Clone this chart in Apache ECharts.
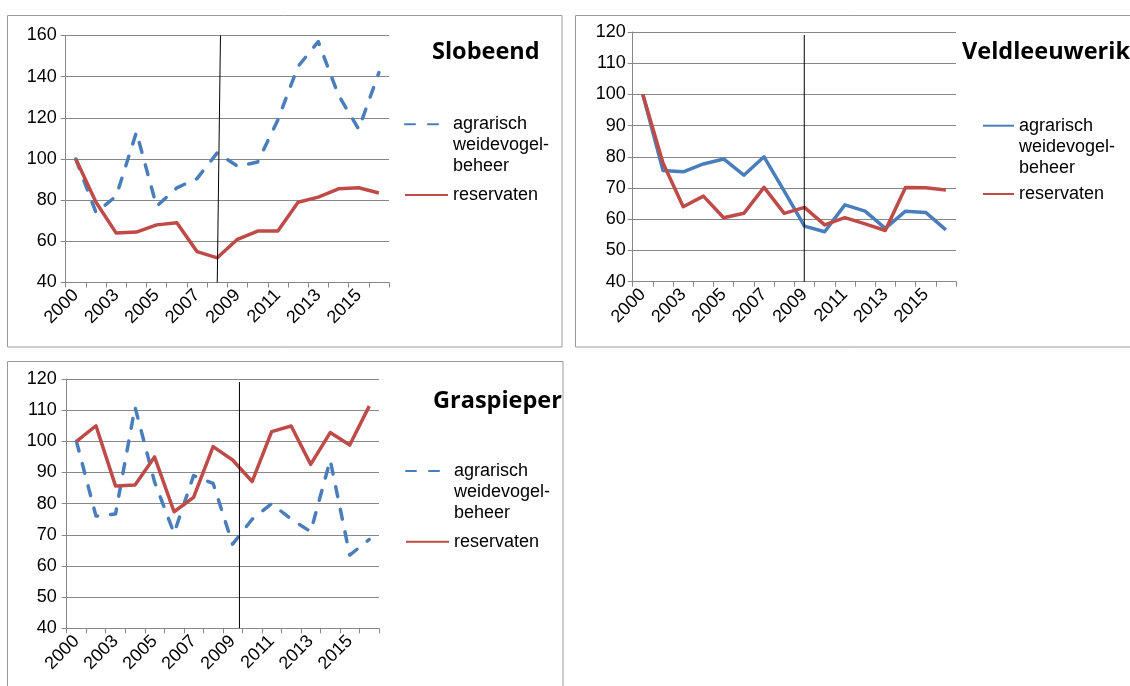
<!DOCTYPE html>
<html>
<head>
<meta charset="utf-8">
<script src="https://cdn.jsdelivr.net/npm/echarts@6/dist/echarts.min.js"></script>
<style>
html,body{margin:0;padding:0;background:#ffffff;}
#chart{width:1130px;height:686px;}
</style>
</head>
<body>
<div id="chart"></div>
<script>
// ---- data ----
const years = ['2000','2002','2003','2004','2005','2006','2007','2008','2009','2010','2011','2012','2013','2014','2015','2016'];
const panelTitles = ['Slobeend', 'Veldleeuwerik', 'Graspieper'];
const seriesLabels = ['agrarisch\nweidevogel-\nbeheer', 'reservaten'];

const slobeendAgrarisch = [100, 74, 82, 113, 77, 86, 90.5, 103, 96.5, 98.5, 119, 145, 157, 131, 114.5, 142];
const slobeendReservaten = [100, 79, 64, 64.5, 68, 69, 55, 52, 61, 65, 65, 79, 81.5, 85.5, 86, 83.5];

const veldleeuwerikAgrarisch = [100, 75.6, 75.2, 77.7, 79.3, 74.1, 80, 69, 57.8, 56, 64.6, 62.6, 57.1, 62.6, 62.2, 56.6];
const veldleeuwerikReservaten = [100, 78, 64, 67.4, 60.5, 61.9, 70.2, 61.9, 63.8, 58.2, 60.5, 58.5, 56.4, 70.2, 70.1, 69.4];

const graspieperAgrarisch = [100, 76, 76.7, 111, 87, 70.5, 89, 86.5, 67, 75, 80, 75, 71, 94, 63.5, 68.5];
const graspieperReservaten = [100, 105, 85.7, 86, 95, 77.4, 82, 98.3, 94, 87.1, 103.1, 104.9, 92.6, 102.8, 98.8, 111.3];

const yMin = [40, 40, 40];
const yMax = [160, 120, 120];
const yStep = [20, 10, 10];

// vertical divider line per panel, in axis units: [categoryPosition, value]
const dividerSlobeend = [[7.66, 160], [7.5, 40]];
const dividerVeldleeuwerik = [[8.49, 119], [8.49, 40]];
const dividerGraspieper = [[8.85, 119], [8.85, 40]];

// ---- styling / layout ----
const BLUE = '#4A7EBB';
const RED = '#BE4B48';
const GRID = '#878787';
const FONT = '"Liberation Sans", Arial, sans-serif';

const grids = [
  {left: 65.7, top: 35.5, width: 323.3, height: 247},
  {left: 632.7, top: 31.9, width: 323.3, height: 249.8},
  {left: 66.7, top: 379, width: 312.3, height: 249.3}
];
const yLabelMargin = [9, 7, 10];
const panelData = [
  [slobeendAgrarisch, slobeendReservaten, dividerSlobeend, true],
  [veldleeuwerikAgrarisch, veldleeuwerikReservaten, dividerVeldleeuwerik, false],
  [graspieperAgrarisch, graspieperReservaten, dividerGraspieper, true]
];
const titlePos = [{left: 432, top: 40.5}, {left: 962, top: 40.5}, {left: 433, top: 389.5}];
const legendPos = [
  {left: 404, a: 124.3, r: 195, w: 43},
  {left: 982, a: 125.7, r: 194, w: 31},
  {left: 405, a: 471, r: 541.7, w: 43}
];
const LH = 21;

const nameMap = {};
const option = {
  animation: false,
  backgroundColor: '#ffffff',
  textStyle: {fontFamily: FONT},
  grid: [], xAxis: [], yAxis: [], series: [], title: [], legend: [],
  graphic: [
    {type: 'rect', shape: {x: 7.5, y: 15.5, width: 554.5, height: 331.5}, style: {fill: 'none', stroke: '#9a9a9a', lineWidth: 1}, silent: true},
    {type: 'rect', shape: {x: 575.5, y: 15.5, width: 560, height: 331.5}, style: {fill: 'none', stroke: '#9a9a9a', lineWidth: 1}, silent: true},
    {type: 'rect', shape: {x: 7.5, y: 361.5, width: 555.5, height: 340}, style: {fill: 'none', stroke: '#9a9a9a', lineWidth: 1}, silent: true}
  ]
};

panelData.forEach((pd, i) => {
  const [agr, res, div, dashed] = pd;
  option.grid.push(Object.assign({outerBoundsMode: 'none', containLabel: false}, grids[i]));
  // visible category axis
  option.xAxis.push({
    type: 'category', gridIndex: i, data: years, boundaryGap: true,
    axisLine: {show: true, lineStyle: {color: GRID, width: 1}},
    axisTick: {show: true, interval: 0, length: 5, lineStyle: {color: GRID}},
    axisLabel: {interval: 1, rotate: 45, fontSize: 18, color: '#000', fontFamily: FONT, margin: 10, hideOverlap: false},
    splitLine: {show: false}
  });
  // hidden value axis for the divider line
  option.xAxis.push({
    type: 'value', gridIndex: i, min: 0, max: years.length, show: false,
    splitLine: {show: false}
  });
  option.yAxis.push({
    type: 'value', gridIndex: i, min: yMin[i], max: yMax[i], interval: yStep[i],
    axisLine: {show: true, lineStyle: {color: GRID, width: 1}},
    axisTick: {show: true, length: 5, lineStyle: {color: GRID}},
    axisLabel: {fontSize: 18, color: '#000', fontFamily: FONT, margin: yLabelMargin[i]},
    splitLine: {show: true, lineStyle: {color: GRID, width: 1}}
  });
  const nA = panelTitles[i] + ' – agrarisch weidevogelbeheer';
  const nR = panelTitles[i] + ' – reservaten';
  // leading blank lines keep the first text line level with the legend line
  nameMap[nA] = '\n\n' + seriesLabels[0];
  nameMap[nR] = seriesLabels[1];
  option.series.push({
    name: nA, type: 'line', xAxisIndex: 2 * i, yAxisIndex: i, data: agr,
    symbol: 'none', smooth: false, z: 3,
    lineStyle: {color: BLUE, width: 3.5, type: dashed ? [10, 13] : 'solid', cap: dashed ? 'round' : 'butt', join: 'round'},
    itemStyle: {color: BLUE}
  });
  option.series.push({
    name: nR, type: 'line', xAxisIndex: 2 * i, yAxisIndex: i, data: res,
    symbol: 'none', smooth: false, z: 4,
    lineStyle: {color: RED, width: 3.5, type: 'solid', join: 'round'},
    itemStyle: {color: RED}
  });
  option.series.push({
    name: 'divider' + i, type: 'line', xAxisIndex: 2 * i + 1, yAxisIndex: i, data: div,
    symbol: 'none', silent: true, z: 5,
    lineStyle: {color: '#000', width: 1}
  });
  option.title.push({
    text: panelTitles[i], left: titlePos[i].left, top: titlePos[i].top, padding: 0,
    textStyle: {fontFamily: '"Open Sans", sans-serif', fontWeight: 'bold', fontSize: 23.5, color: '#000'}
  });
  const lp = legendPos[i];
  const legendItemStyle = {opacity: 0, color: 'rgba(0,0,0,0)', borderWidth: 0};
  option.legend.push({
    data: [nA], orient: 'vertical', left: lp.left, top: lp.a - 2.5 * LH, padding: 0,
    itemWidth: lp.w, itemHeight: 14, selectedMode: false, itemStyle: legendItemStyle,
    formatter: n => nameMap[n],
    textStyle: {fontFamily: FONT, fontSize: 18, color: '#000', lineHeight: LH}
  });
  option.legend.push({
    data: [nR], orient: 'vertical', left: lp.left, top: lp.r - LH / 2, padding: 0,
    itemWidth: lp.w, itemHeight: 14, selectedMode: false, itemStyle: legendItemStyle,
    formatter: n => nameMap[n],
    textStyle: {fontFamily: FONT, fontSize: 18, color: '#000', lineHeight: LH}
  });
});

const chart = echarts.init(document.getElementById('chart'), null, {renderer: 'canvas'});
chart.setOption(option);
</script>
</body>
</html>
